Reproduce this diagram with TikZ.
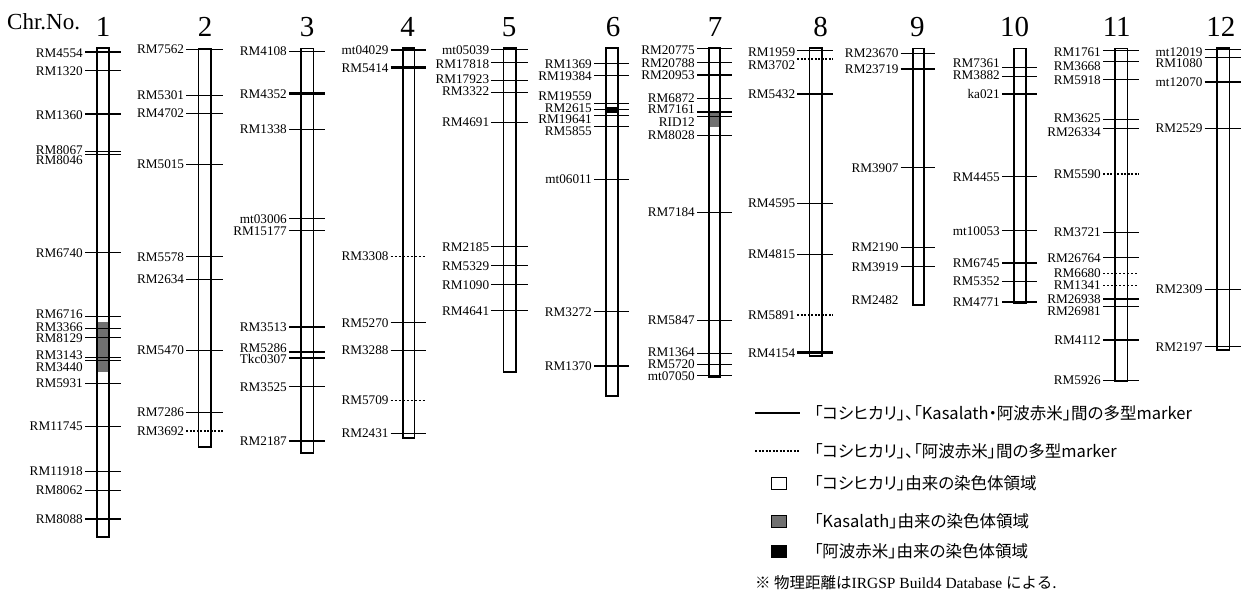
\documentclass[tikz,border=0pt]{standalone}
\usepackage{fontspec}
\setmainfont{Liberation Serif}
\newfontfamily\jp[RawFeature=+palt]{Noto Sans CJK JP}
\newfontfamily\jpn{Noto Sans CJK JP}
\definecolor{kgray}{RGB}{112,112,112}
% #1 chromosome no, #2 title x, #3 xl, #4 xr, #5 top, #6 bottom, #7 coloured blocks, #8 markers
\newcommand\chrom[8]{%
  \fill[white] (#3,#5) rectangle (#4,#6);
  #7
  \foreach \y/\ly/\s/\t in {#8} {
    \draw[\s] (#3-12,\y) -- (#4+11.5,\y);
    \node[lab] (\t) at (#3-14,\ly) {\t};
  }
  \draw[chrline] (#3,#5) rectangle (#4,#6);
  \node[num] (chr#1) at (#2,36) {#1};
}
\begin{document}
\begin{tikzpicture}[x=1pt,y=-1pt,
  lab/.style={font=\fontsize{13.2}{14}\selectfont, inner sep=0pt, anchor=east, text height=9pt, text depth=0pt},
  num/.style={font=\fontsize{29}{30}\selectfont, inner sep=0pt, anchor=base},
  mkthin/.style={line width=0.9pt},
  mkthick/.style={line width=2.2pt},
  mkdot/.style={line width=2pt, dash pattern=on 2pt off 1.5pt},
  mkdash/.style={line width=0.7pt, dash pattern=on 2pt off 2pt},
  mknone/.style={draw=none},
  chrline/.style={line width=1.6pt},
  legtext/.style={font=\jp\fontsize{16.5}{17}\selectfont, inner sep=0pt, anchor=west}]
\useasboundingbox (0,0) rectangle (1245,597);

\node[font=\fontsize{23}{24}\selectfont, anchor=base west, inner sep=0pt] (chrno) at (7,29) {Chr.No.};

\chrom{1}{103}{97}{109}{47.7}{536.7}{\fill[kgray] (97,322.3) rectangle (109,371.7);}{
51.7/53/mkthick/RM4554, 70.7/71/mkthin/RM1320, 114.3/115/mkthick/RM1360,
151.7/149.6/mkthin/RM8067, 154.3/160.4/mkthin/RM8046, 252.7/253/mkthin/RM6740,
316.7/313.5/mkthin/RM6716, 328.3/327.4/mkthin/RM3366, 337/338.2/mkthin/RM8129,
357.3/354.5/mkthin/RM3143, 360/367/mkthin/RM3440, 383.3/383.3/mkthin/RM5931,
426/426/mkthin/RM11745, 471.3/471.3/mkthin/RM11918, 490/490/mkthin/RM8062,
518.7/518.7/mkthick/RM8088}

\chrom{2}{205}{198.3}{211}{48.3}{447}{}{
49.3/49.3/mkthin/RM7562, 95/95/mkthin/RM5301, 113.3/113.3/mkthin/RM4702,
164.3/164.3/mkthin/RM5015, 256.7/256.7/mkthin/RM5578, 279.3/279.3/mkthin/RM2634,
350/350/mkthin/RM5470, 412/412/mkthin/RM7286, 430.7/430.7/mkdot/RM3692}

\chrom{3}{307}{301}{313.3}{48.3}{453}{}{
51/51/mkthin/RM4108, 93.5/93.5/mkthick/RM4352, 129/129/mkthin/RM1338,
218.5/218.5/mkthin/mt03006, 230.5/230.5/mkthin/RM15177, 326.7/326.7/mkthick/RM3513,
351.7/347.5/mkthick/RM5286, 357.7/359/mkthick/Tkc0307, 386.7/386.7/mkthin/RM3525,
440.7/440.7/mkthick/RM2187}

\chrom{4}{407.5}{402.7}{414.3}{47.7}{438}{}{
50/50/mkthick/mt04029, 67.5/67.5/mkthick/RM5414, 256/256/mkdash/RM3308,
322.7/322.7/mkthin/RM5270, 350/350/mkthin/RM3288, 400/400/mkdash/RM5709,
433/433/mkthin/RM2431}

\chrom{5}{509}{503.3}{516}{47.7}{372}{}{
49/50/mkthin/mt05039, 62.7/64/mkthin/RM17818, 80/79/mkthin/RM17923,
92.3/91/mkthin/RM3322, 122.3/122.3/mkthin/RM4691, 246.5/246.5/mkthin/RM2185,
265.5/265.5/mkthin/RM5329, 284.5/284.5/mkthin/RM1090, 310.5/310.5/mkthin/RM4641}

\chrom{6}{613}{606}{617.7}{47.7}{396}{\fill[black] (606,107) rectangle (617.7,113.3);}{
63.5/63.5/mkthin/RM1369, 75.5/75.5/mkthin/RM19384, 103.5/96/mkthin/RM19559,
109/107.5/mkthin/RM2615, 115/119/mkthin/RM19641, 126.5/131/mkthin/RM5855,
179/179/mkthin/mt06011, 311.5/311.5/mkthin/RM3272, 366/366/mkthick/RM1370}

\chrom{7}{715}{709}{720}{47.7}{377}{\fill[kgray] (709,112.7) rectangle (720,126.7);}{
48.3/50/mkthin/RM20775, 62.7/62.7/mkthin/RM20788, 75/74.5/mkthick/RM20953,
98/97.5/mkthin/RM6872, 111.7/108.5/mkthick/RM7161, 116.7/122.3/mkthin/RID12,
135/134.5/mkthin/RM8028, 212.3/212.3/mkthin/RM7184, 320/320/mkthin/RM5847,
353/352.3/mkthin/RM1364, 364/363.7/mkthin/RM5720, 375/376/mkthin/mt07050}

\chrom{8}{820.5}{809.3}{821.7}{47.7}{356}{}{
50.7/52/mkthin/RM1959, 59/64.5/mkdot/RM3702, 94/94/mkthick/RM5432,
203.3/203.3/mkthin/RM4595, 254.3/254.3/mkthin/RM4815, 314.5/314.5/mkdot/RM5891,
352.5/352.5/mkthick/RM4154}

\chrom{9}{917.3}{912.7}{923.7}{48.3}{305}{}{
53.3/53.3/mkthin/RM23670, 69/69/mkthick/RM23719, 167.7/167.7/mkthin/RM3907,
247.3/247.3/mkthin/RM2190, 266.7/266.7/mkthin/RM3919, 299.5/299.5/mknone/RM2482}

\chrom{10}{1014.5}{1014}{1025.7}{48.3}{303}{}{
67.7/62.5/mkthin/RM7361, 76.7/74.8/mkthin/RM3882, 94/94/mkthick/ka021,
176.5/176.5/mkthin/RM4455, 230.5/230.5/mkthin/mt10053, 263.3/263.3/mkthick/RM6745,
281/281/mkthin/RM5352, 302/302/mkthick/RM4771}

\chrom{11}{1116.7}{1115}{1127.3}{48.3}{381}{}{
50.7/52/mkthin/RM1761, 61.7/65.7/mkthin/RM3668, 79.3/80/mkthin/RM5918,
119/118.3/mkthin/RM3625, 128.3/131.5/mkthin/RM26334, 173.5/173.5/mkdot/RM5590,
232.3/232.3/mkthin/RM3721, 257.7/257.7/mkthin/RM26764, 273.3/272.5/mkdash/RM6680,
285/285/mkdash/RM1341, 299.3/298.5/mkthick/RM26938, 306.7/310.5/mkthin/RM26981,
340/340/mkthick/RM4112, 380/380/mkthin/RM5926}

\chrom{12}{1220.8}{1216.7}{1229.3}{47.7}{350}{}{
49/52/mkthin/mt12019, 57.3/63/mkthin/RM1080, 82.3/82.3/mkthick/mt12070,
128.3/128.3/mkthin/RM2529, 289.3/289.3/mkthin/RM2309, 346.7/346.7/mkthin/RM2197}

% legend
\coordinate (l1a) at (755,413); \coordinate (l1b) at (800,413);
\draw[line width=2.3pt] (l1a) -- (l1b);
\node[legtext] (lt1) at (814,413) {「コシヒカリ」、「Kasalath・阿波赤米」間の多型marker};
\coordinate (l2a) at (755,451); \coordinate (l2b) at (800,451);
\draw[mkdot] (l2a) -- (l2b);
\node[legtext] (lt2) at (814,451) {「コシヒカリ」、「阿波赤米」間の多型marker};
\node[draw, line width=1pt, fill=white, minimum width=15pt, minimum height=12pt, inner sep=0pt] (sq1) at (778.5,483) {};
\node[legtext] (lt3) at (814,483) {「コシヒカリ」由来の染色体領域};
\node[draw, line width=1pt, fill=kgray, minimum width=15pt, minimum height=12pt, inner sep=0pt] (sq2) at (778.5,521) {};
\node[legtext] (lt4) at (814,521) {「Kasalath」由来の染色体領域};
\node[draw, line width=1pt, fill=black, minimum width=15pt, minimum height=12pt, inner sep=0pt] (sq3) at (778.5,551) {};
\node[legtext] (lt5) at (814,551) {「阿波赤米」由来の染色体領域};
\node[anchor=west, inner sep=0pt, font=\fontsize{15.5}{16}\selectfont] (note) at (755,583) {{\jpn ※ 物理距離は}IRGSP Build4 Database {\jpn による.}};
\end{tikzpicture}
\end{document}
